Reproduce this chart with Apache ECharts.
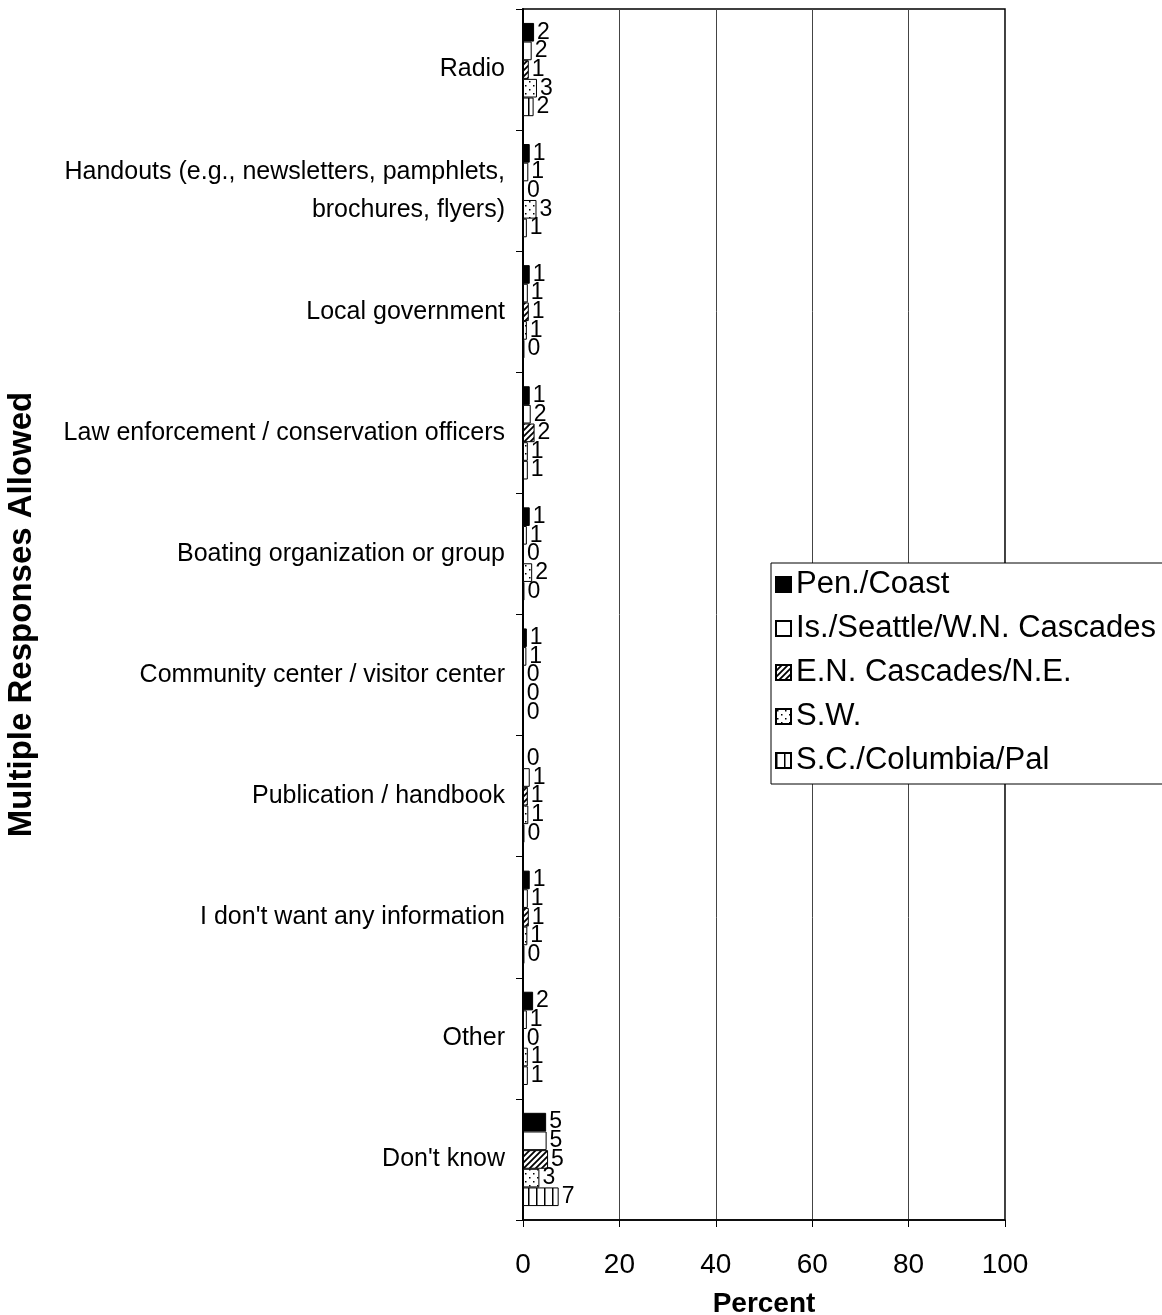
<!DOCTYPE html>
<html>
  <head>
    <meta charset="utf-8">
    <title></title>
    <style>
    body{margin:0; background:#fff;}
    #chart{width:1162px; height:1315px;}
    </style>
    <script src="https://cdn.jsdelivr.net/npm/echarts@6/dist/echarts.min.js"></script>
  </head>
  <body>
    <div id="chart"></div>
    <script>
    // categories, top to bottom
    let categories = [
      'Radio',
      'Handouts (e.g., newsletters, pamphlets,\nbrochures, flyers)',
      'Local government',
      'Law enforcement / conservation officers',
      'Boating organization or group',
      'Community center / visitor center',
      'Publication / handbook',
      "I don't want any information",
      'Other',
      "Don't know"
    ];
    let seriesNames = ['Pen./Coast', 'Is./Seattle/W.N. Cascades', 'E.N. Cascades/N.E.', 'S.W.', 'S.C./Columbia/Pal'];
    let penCoast   = [2.3, 1.4, 1.4, 1.4, 1.4, 0.8, 0.1, 1.4, 2.1, 4.8];
    let isSeattle  = [1.8, 1.1, 1.0, 1.6, 0.8, 0.7, 1.4, 1.0, 0.8, 4.9];
    let enCascades = [1.2, 0.2, 1.2, 2.4, 0.2, 0.1, 1.0, 1.2, 0.1, 5.2];
    let southWest  = [2.9, 2.8, 0.8, 1.0, 1.9, 0.1, 1.1, 0.9, 1.0, 3.4];
    let scColumbia = [2.2, 0.8, 0.3, 1.0, 0.3, 0.1, 0.3, 0.3, 1.0, 7.4];
    let xTicks = [0, 20, 40, 60, 80, 100];

    function pattern(kind){
      let c = document.createElement('canvas');
      let ctx = c.getContext('2d');
      if(kind == 'hatch'){
        c.width = 6; c.height = 6;
        ctx.fillStyle = '#fff'; ctx.fillRect(0,0,6,6);
        ctx.strokeStyle = '#000'; ctx.lineWidth = 1.8;
        ctx.beginPath();
        ctx.moveTo(-1,7); ctx.lineTo(7,-1);
        ctx.moveTo(-4,4); ctx.lineTo(4,-4);
        ctx.moveTo(2,10); ctx.lineTo(10,2);
        ctx.stroke();
      } else if(kind == 'dots'){
        c.width = 8; c.height = 8;
        ctx.fillStyle = '#fff'; ctx.fillRect(0,0,8,8);
        ctx.fillStyle = '#000';
        ctx.fillRect(1,1,1.5,1.5);
        ctx.fillRect(5,5,1.5,1.5);
      } else {
        c.width = 8; c.height = 4;
        ctx.fillStyle = '#fff'; ctx.fillRect(0,0,8,4);
        ctx.fillStyle = '#000';
        ctx.fillRect(0,0,1.5,4);
      }
      return {image: c, repeat: 'repeat'};
    }

    let fills = ['#000', '#fff', pattern('hatch'), pattern('dots'), pattern('vlines')];
    let values = [penCoast, isSeattle, enCascades, southWest, scColumbia];
    let font = '"Liberation Sans", Arial, sans-serif';

    let chart = echarts.init(document.getElementById('chart'));
    chart.setOption({
      animation: false,
      textStyle: {fontFamily: font, color: '#000'},
      grid: {
        left: 523, right: 157, top: 9, bottom: 95,
        outerBoundsMode: 'none', containLabel: false,
        show: true, borderColor: '#000', borderWidth: 1.5
      },
      legend: {
        orient: 'vertical',
        left: 771, top: 563,
        itemWidth: 15, itemHeight: 15, itemGap: 13,
        padding: [6, 12, 8, 4],
        backgroundColor: '#fff', borderColor: '#000', borderWidth: 1,
        textStyle: {fontSize: 31, lineHeight: 31, fontFamily: font, color: '#000', padding: [0, 0, 0, 0]},
        data: seriesNames.map(n => ({name: n, icon: 'rect'}))
      },
      xAxis: {
        type: 'value', min: 0, max: 100, interval: 20,
        name: 'Percent', nameLocation: 'middle', nameGap: 70,
        nameTextStyle: {fontSize: 28, fontWeight: 'bold', fontFamily: font, color: '#000'},
        axisLine: {show: true, lineStyle: {color: '#000', width: 1.5}},
        axisTick: {show: true, length: 7, lineStyle: {color: '#000'}},
        axisLabel: {fontSize: 28, color: '#000', margin: 31, formatter: v => xTicks.includes(v) ? v : ''},
        splitLine: {show: true, lineStyle: {color: '#444', width: 1}}
      },
      yAxis: {
        type: 'category', inverse: true, data: categories,
        name: 'Multiple Responses Allowed', nameLocation: 'middle', nameGap: 485,
        nameTextStyle: {fontSize: 33, fontWeight: 'bold', fontFamily: font, color: '#000'},
        axisLine: {show: true, lineStyle: {color: '#000', width: 2}},
        axisTick: {show: true, inside: false, length: 7, lineStyle: {color: '#000'}},
        axisLabel: {fontSize: 25, color: '#000', margin: 18, align: 'right', lineHeight: 38},
        splitLine: {show: false}
      },
      series: seriesNames.map((n, i) => ({
        name: n, type: 'bar',
        data: values[i],
        barGap: '0%', barCategoryGap: '23%',
        itemStyle: {color: fills[i], borderColor: '#000', borderWidth: 1},
        label: {
          show: true, position: 'right', distance: 3,
          fontSize: 23, color: '#000', fontFamily: font,
          formatter: p => Math.round(p.value)
        }
      }))
    });
    </script>
  </body>
</html>
